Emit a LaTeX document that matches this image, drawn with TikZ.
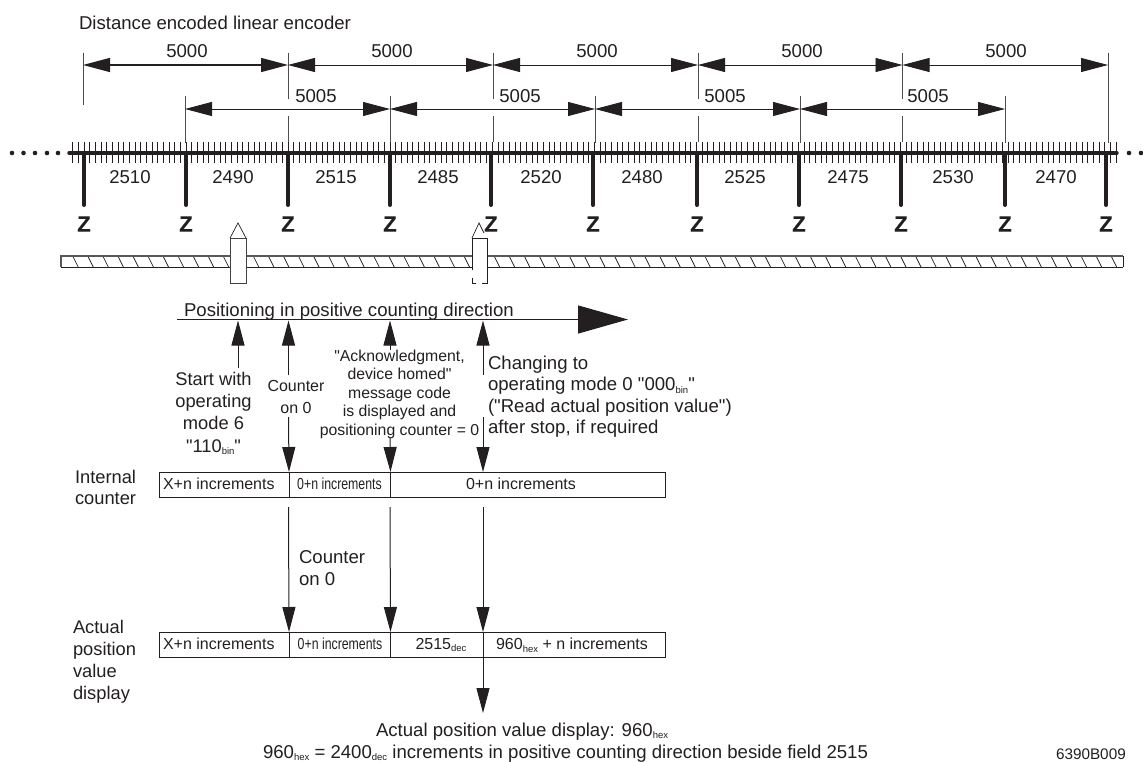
\documentclass[tikz,border=0pt]{standalone}
\usepackage{fontspec}
\setmainfont{Liberation Sans}[Ligatures=TeXOff]
\newfontfamily\zfont{Liberation Sans Bold}[FakeBold=0.5]
\usetikzlibrary{arrows.meta}
\definecolor{ink}{HTML}{231F20}
\newcommand{\lowtxt}[1]{\raisebox{-0.3ex}{\fontsize{9.5}{10}\selectfont #1}}
\newcommand{\fa}{\fontsize{18.6}{20}\selectfont}
\newcommand{\fb}{\fontsize{16}{18}\selectfont}
\tikzset{
  x=1pt,y=-1pt,
  every node/.style={inner sep=0pt,outer sep=0pt,text=ink},
  every path/.style={color=ink},
  lab/.style={font=\fa},
  labb/.style={font=\fb},
  zmark/.style={font=\fontsize{22}{22}\zfont},
  ext/.style={line width=0.7pt,draw=ink!80},
  dimA/.style={{Triangle[length=27pt,width=14pt]}-{Triangle[length=27pt,width=14pt]},line width=0.8pt},
  dimAb/.style={dimA,line width=1.4pt},
  upar/.style={-{Triangle[length=25pt,width=13pt]},line width=1pt},
  cell/.style={draw=ink,line width=0.9pt,minimum height=25pt,anchor=west},
  grayline/.style={line width=1.1pt,draw=ink!75},
}
\begin{document}
\begin{tikzpicture}
\useasboundingbox (0,0) rectangle (1143,762);
\node[lab,anchor=base west] (title) at (79,29.3) {Distance encoded linear encoder};

% dimension nodes
\foreach \n/\x in {0/83,1/288,2/493,3/698,4/902.5,5/1108}{
  \coordinate (u\n) at (\x,65);
  \coordinate (uT\n) at (\x,53);
}
\foreach \n/\x in {0/185,1/390,2/595,3/800,4/1005}{
  \coordinate (v\n) at (\x,109);
  \coordinate (vT\n) at (\x,96);
  \coordinate (vB\n) at (\x,143);
}
\draw[ext] (uT0) -- (83,105);
\foreach \n in {1,2,3,4}{
  \draw[ext] (uT\n) -- ++(0,46);
  \draw[ext] (uT\n) ++(0,63) -- ++(0,26);
}
\draw[ext] (uT5) -- ++(0,90);
\foreach \n in {0,1,2,3,4}{\draw[ext] (vT\n) -- (vB\n);}
\draw[dimAb] (u0) -- (u1);
\draw[dimA] (u1) -- (u2);
\draw[dimA] (u2) -- (u3);
\draw[dimA] (u3) -- (u4);
\draw[dimA] (u4) -- (u5);
\draw[dimA] (v0) -- (v1);
\draw[dimA] (v1) -- (v2);
\draw[dimA] (v2) -- (v3);
\draw[dimA] (v3) -- (v4);
\foreach \n/\x in {a/187,b/392,c/597,d/802,e/1006}{\node[lab] (d\n) at (\x,51) {5000};}
\foreach \n/\x in {a/316,b/520,c/725,d/928}{\node[lab] (e\n) at (\x,96) {5005};}

% scale
\foreach \i in {0,...,184}{\draw[line width=0.9pt] ({72.7+\i*5.67},142) -- ({72.7+\i*5.67},163);}
\draw[line width=3.4pt,line cap=round] (69,153) -- (1117,153);
\foreach \x in {12,23.5,35,47,58,1129,1141}{\fill (\x,153) circle (2.3);}
\foreach \n/\x in {1/84,2/186,3/288,4/390,5/491,6/593,7/697,8/799,9/901,10/1005,11/1106}{
  \coordinate (zt\n) at (\x,153);
  \coordinate (zb\n) at (\x,205);
  \draw[line width=4pt,line cap=round] (zt\n) -- (zb\n);
}
\foreach \n/\x/\t in {a/130/2510,b/233/2490,c/336/2515,d/438/2485,e/541/2520,f/642/2480,g/745/2525,h/848/2475,i/953/2530,j/1056/2470}{
  \node[lab] (s\n) at (\x,177) {\t};
}

% hatched ruler
\foreach \i in {0,...,69}{\draw[line width=0.75pt] ({72.7+\i*15.05},256) -- ({78.2+\i*15.05},267);}
\draw[grayline] (61,267) -- (61,256) -- (1123,256);
\draw[line width=1pt] (61,267) -- (1123,267);
\draw[line width=0.7pt] (1123,256) -- (1123,267);

% slider 1
\fill[white] (230,238) rectangle (246,283);
\draw[line width=0.8pt,draw=ink!85] (230,238) rectangle (246,283);
\draw[line width=0.7pt] (230,238) -- (238,223) -- (246,238);
% slider 2
\fill[white] (472,238) rectangle (487,283);
\draw[line width=0.7pt] (472,238) -- (479,223) -- (484,233);
\draw[line width=0.7pt] (472,270) -- (472,238) -- (487,238) -- (487,283) -- (482,283);
\draw[line width=0.7pt] (476,283) -- (472,283) -- (472,278);

\foreach \n/\x in {1/84,2/186,3/288,4/390,5/491,6/593,7/697,8/799,9/901,10/1005,11/1106}{
  \node[zmark] (z\n) at (\x,224) {Z};
}

% positioning line
\node[lab,anchor=base west] (pos) at (184,316) {Positioning in positive counting direction};
\coordinate (pA) at (177,319.5);
\coordinate (pB) at (628,319.5);
\draw[line width=1.2pt,-{Triangle[length=50pt,width=28pt]}] (pA) -- (pB);

% upper box
\node[cell,minimum width=129.5pt] (i1) at (159.5,484.5) {};
\node[cell,minimum width=101.5pt] (i2) at (289,484.5) {};
\node[cell,minimum width=274.5pt] (i3) at (390.5,484.5) {};
\node[labb,anchor=west] (i1t) at (163,484) {X+n increments};
\node[labb] (i2t) at (339.5,484) {\scalebox{0.77}[1]{0+n increments}};
\node[labb] (i3t) at (521,484) {0+n increments};

% lower box
\node[cell,minimum width=129.5pt] (a1) at (159.5,644.5) {};
\node[cell,minimum width=101.5pt] (a2) at (289,644.5) {};
\node[cell,minimum width=92.5pt] (a3) at (390.5,644.5) {};
\node[cell,minimum width=182pt] (a4) at (483,644.5) {};
\node[labb,anchor=west] (a1t) at (163,644) {X+n increments};
\node[labb] (a2t) at (340,644) {\scalebox{0.77}[1]{0+n increments}};
\node[labb] (a3t) at (441,645) {2515\lowtxt{dec}};
\node[labb] (a4t) at (572,645) {960\lowtxt{hex} + n increments};

% up arrows to the line
\coordinate (c1) at (238,368);
\coordinate (c1t) at (238,320.5);
\draw[upar] (c1) -- (c1t);
\coordinate (c2) at (288.5,375);
\coordinate (c2t) at (288.5,320.5);
\draw[upar] (c2) -- (c2t);
\coordinate (c3) at (390,350);
\coordinate (c3t) at (390,320.5);
\draw[upar] (c3) -- (c3t);
\coordinate (c4) at (483,375);
\coordinate (c4t) at (483,320.5);
\draw[upar] (c4) -- (c4t);
% down arrows to the upper box
\coordinate (d2) at (288.5,417);
\coordinate (d3) at (390,438);
\coordinate (d4) at (483,417);
\draw[upar] (d2) -- (i1.north east);
\draw[upar] (d3) -- (i2.north east);
\draw[upar] (d4) -- (483,472);
% upper to lower
\coordinate (f2) at (288.5,507);
\coordinate (f3) at (390,507);
\coordinate (f4) at (483,507);
\draw[upar] (f2) -- (a1.north east);
\draw[upar] (f3) -- (a2.north east);
\draw[upar] (f4) -- (a3.north east);
\coordinate (g4) at (483,713);
\draw[upar] (a3.south east) -- (g4);

% texts
\node[align=center,font=\fontsize{18.3}{22.3}\selectfont] (start) at (213.5,413.5) {Start with\\operating\\mode 6\\"110\lowtxt{bin}"};
\node[align=center,font=\fontsize{16}{22}\selectfont] (cnt1) at (296,397) {Counter\\on 0};
\node[align=center,font=\fontsize{15.8}{18.5}\selectfont] (ack) at (399.5,394) {"Acknowledgment,\\device homed"\\message code\\is displayed and\\positioning counter = 0};
\node[anchor=west,align=left,font=\fontsize{18.6}{21.5}\selectfont] (chg) at (488,396.5) {Changing to\\operating mode 0 "000\lowtxt{bin}"\\("Read actual position value")\\after stop, if required};
\node[anchor=west,align=left,font=\fontsize{18.6}{22}\selectfont] (cnt2) at (299,568.5) {Counter\\on 0};
\node[anchor=west,align=left,font=\fontsize{18.3}{21}\selectfont] (intl) at (75,487.5) {Internal\\counter};
\node[anchor=west,align=left,font=\fontsize{18.3}{22}\selectfont] (act) at (73,661.5) {Actual\\position\\value\\display};
\node[anchor=base west,font=\fontsize{18.6}{21}\selectfont] (res1) at (376,736) {Actual position value display: 960\lowtxt{hex}};
\node[anchor=base west,font=\fontsize{18.6}{21}\selectfont] (res2) at (263,758) {960\lowtxt{hex} = 2400\lowtxt{dec} increments in positive counting direction beside field 2515};
\node[anchor=base west,font=\fontsize{15.3}{16}\selectfont] (code) at (1056,759) {6390B009};
\end{tikzpicture}
\end{document}
